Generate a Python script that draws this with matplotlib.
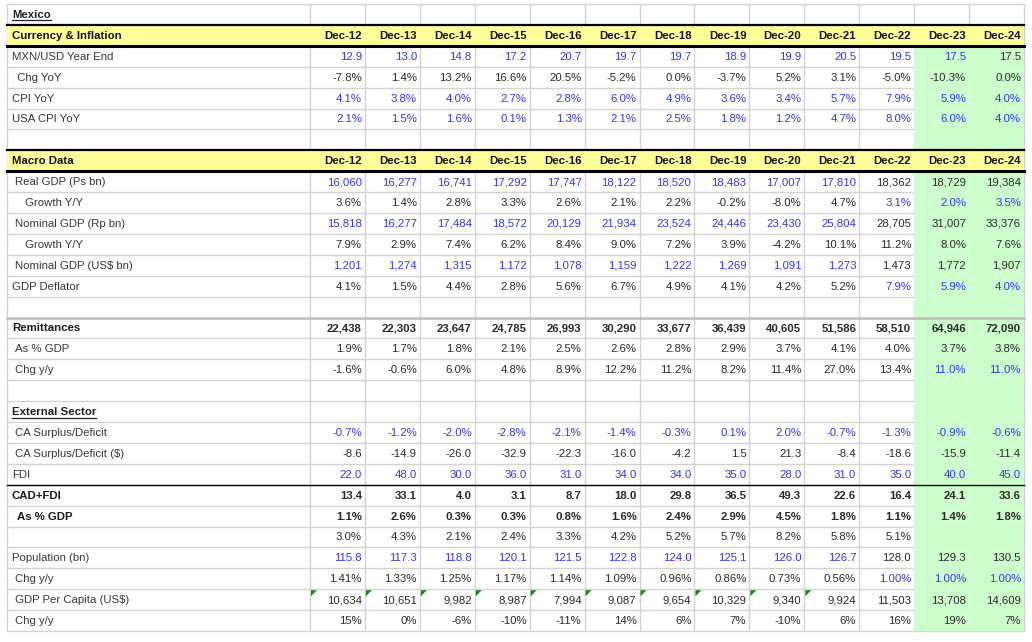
import matplotlib
matplotlib.use('Agg')
import matplotlib.pyplot as plt
from matplotlib.patches import Rectangle, Polygon

plt.rcParams['font.family'] = ['Liberation Sans', 'DejaVu Sans']

years = ['Dec-12', 'Dec-13', 'Dec-14', 'Dec-15', 'Dec-16', 'Dec-17', 'Dec-18',
         'Dec-19', 'Dec-20', 'Dec-21', 'Dec-22', 'Dec-23', 'Dec-24']

# currency & inflation
mxn_usd = [12.9, 13.0, 14.8, 17.2, 20.7, 19.7, 19.7, 18.9, 19.9, 20.5, 19.5, 17.5, 17.5]
mxn_chg = [-7.8, 1.4, 13.2, 16.6, 20.5, -5.2, 0.0, -3.7, 5.2, 3.1, -5.0, -10.3, 0.0]
cpi_yoy = [4.1, 3.8, 4.0, 2.7, 2.8, 6.0, 4.9, 3.6, 3.4, 5.7, 7.9, 5.9, 4.0]
usa_cpi = [2.1, 1.5, 1.6, 0.1, 1.3, 2.1, 2.5, 1.8, 1.2, 4.7, 8.0, 6.0, 4.0]

# macro data
real_gdp = [16060, 16277, 16741, 17292, 17747, 18122, 18520, 18483, 17007, 17810, 18362, 18729, 19384]
real_growth = [3.6, 1.4, 2.8, 3.3, 2.6, 2.1, 2.2, -0.2, -8.0, 4.7, 3.1, 2.0, 3.5]
nom_gdp = [15818, 16277, 17484, 18572, 20129, 21934, 23524, 24446, 23430, 25804, 28705, 31007, 33376]
nom_growth = [7.9, 2.9, 7.4, 6.2, 8.4, 9.0, 7.2, 3.9, -4.2, 10.1, 11.2, 8.0, 7.6]
nom_gdp_usd = [1201, 1274, 1315, 1172, 1078, 1159, 1222, 1269, 1091, 1273, 1473, 1772, 1907]
deflator = [4.1, 1.5, 4.4, 2.8, 5.6, 6.7, 4.9, 4.1, 4.2, 5.2, 7.9, 5.9, 4.0]

# remittances
remit = [22438, 22303, 23647, 24785, 26993, 30290, 33677, 36439, 40605, 51586, 58510, 64946, 72090]
remit_gdp = [1.9, 1.7, 1.8, 2.1, 2.5, 2.6, 2.8, 2.9, 3.7, 4.1, 4.0, 3.7, 3.8]
remit_chg = [-1.6, -0.6, 6.0, 4.8, 8.9, 12.2, 11.2, 8.2, 11.4, 27.0, 13.4, 11.0, 11.0]

# external sector
ca_pct = [-0.7, -1.2, -2.0, -2.8, -2.1, -1.4, -0.3, 0.1, 2.0, -0.7, -1.3, -0.9, -0.6]
ca_usd = [-8.6, -14.9, -26.0, -32.9, -22.3, -16.0, -4.2, 1.5, 21.3, -8.4, -18.6, -15.9, -11.4]
fdi = [22.0, 48.0, 30.0, 36.0, 31.0, 34.0, 34.0, 35.0, 28.0, 31.0, 35.0, 40.0, 45.0]
cad_fdi = [13.4, 33.1, 4.0, 3.1, 8.7, 18.0, 29.8, 36.5, 49.3, 22.6, 16.4, 24.1, 33.6]
cad_fdi_gdp = [1.1, 2.6, 0.3, 0.3, 0.8, 1.6, 2.4, 2.9, 4.5, 1.8, 1.1, 1.4, 1.8]
unlabeled = [3.0, 4.3, 2.1, 2.4, 3.3, 4.2, 5.2, 5.7, 8.2, 5.8, 5.1, None, None]
population = [115.8, 117.3, 118.8, 120.1, 121.5, 122.8, 124.0, 125.1, 126.0, 126.7, 128.0, 129.3, 130.5]
pop_chg = [1.41, 1.33, 1.25, 1.17, 1.14, 1.09, 0.96, 0.86, 0.73, 0.56, 1.00, 1.00, 1.00]
gdp_pc = [10634, 10651, 9982, 8987, 7994, 9087, 9654, 10329, 9340, 9924, 11503, 13708, 14609]
gdp_pc_chg = [15, 0, -6, -10, -11, 14, 6, 7, -10, 6, 16, 19, 7]
gdp_pc_flag = [1, 1, 1, 1, 1, 1, 1, 1, 1, 1, 0, 0, 0]

F1 = '{:.1f}'
P1 = '{:.1f}%'
P2 = '{:.2f}%'
P0 = '{:.0f}%'
N0 = '{:,.0f}'

# (kind, label, values, format, colour codes per column, indent px, bold)
rows = [
    ('title', 'Mexico'),
    ('header', 'Currency & Inflation'),
    ('data', 'MXN/USD Year End', mxn_usd, F1, 'b' * 12 + 'k', 0, False),
    ('data', ' Chg YoY', mxn_chg, P1, 'k' * 13, 2, False),
    ('data', 'CPI YoY', cpi_yoy, P1, 'b' * 13, 0, False),
    ('data', 'USA CPI YoY', usa_cpi, P1, 'b' * 13, 0, False),
    ('blank',),
    ('header', 'Macro Data'),
    ('data', 'Real GDP (Ps bn)', real_gdp, N0, 'b' * 10 + 'kkk', 3, False),
    ('data', 'Growth Y/Y', real_growth, P1, 'k' * 10 + 'bbb', 13, False),
    ('data', 'Nominal GDP (Rp bn)', nom_gdp, N0, 'b' * 10 + 'kkk', 3, False),
    ('data', 'Growth Y/Y', nom_growth, P1, 'k' * 13, 13, False),
    ('data', 'Nominal GDP (US$ bn)', nom_gdp_usd, N0, 'b' * 10 + 'kkk', 3, False),
    ('data', 'GDP Deflator', deflator, P1, 'k' * 10 + 'bbb', 0, False),
    ('blank',),
    ('data', 'Remittances', remit, N0, 'k' * 13, 0, True),
    ('data', 'As % GDP', remit_gdp, P1, 'k' * 13, 3, False),
    ('data', 'Chg y/y', remit_chg, P1, 'k' * 11 + 'bb', 3, False),
    ('blank',),
    ('title', 'External Sector'),
    ('data', 'CA Surplus/Deficit', ca_pct, P1, 'b' * 13, 3, False),
    ('data', 'CA Surplus/Deficit ($)', ca_usd, F1, 'k' * 13, 3, False),
    ('data', 'FDI', fdi, F1, 'b' * 13, 0, False),
    ('data', 'CAD+FDI', cad_fdi, F1, 'k' * 13, 0, True),
    ('data', 'As % GDP', cad_fdi_gdp, P1, 'k' * 13, 5, True),
    ('data', '', unlabeled, P1, 'k' * 13, 0, False),
    ('data', 'Population (bn)', population, F1, 'b' * 10 + 'kkk', 0, False),
    ('data', 'Chg y/y', pop_chg, P2, 'k' * 10 + 'bbb', 3, False),
    ('data', 'GDP Per Capita (US$)', gdp_pc, N0, 'k' * 13, 3, False),
    ('data', 'Chg y/y', gdp_pc_chg, P0, 'k' * 13, 3, False),
]

# layout in pixels
W, H = 1032, 642
LEFT, LABEL_END, RIGHT = 7, 310, 1024
TOP, BOTTOM = 4, 631
ncol = len(years)
col_w = (RIGHT - LABEL_END) / ncol
row_h = (BOTTOM - TOP) / len(rows)
edges = [LABEL_END + i * col_w for i in range(ncol + 1)]
FCST = 11  # first shaded column

GRID = '#d3d3d3'
YELLOW = '#ffff99'
GREEN = '#ccffcc'
BLUE = '#3535f5'
DARK = '#2a2a2a'
LABEL = '#383838'
FS = 8.2
PX = 0.72  # one pixel in points

fig = plt.figure(figsize=(W / 100, H / 100), dpi=100)
ax = fig.add_axes([0, 0, 1, 1])
ax.set_xlim(0, W)
ax.set_ylim(H, 0)
ax.axis('off')


def row_top(i):
    return TOP + i * row_h


# grid
for i in range(len(rows) + 1):
    ax.plot([LEFT, RIGHT], [row_top(i)] * 2, color=GRID, lw=1.4 * PX, zorder=1)
for x in [LEFT] + edges:
    ax.plot([x, x], [TOP, BOTTOM], color=GRID, lw=1.4 * PX, zorder=1)

# forecast shading
ax.add_patch(Rectangle((edges[FCST], row_top(2)), RIGHT - edges[FCST], BOTTOM - row_top(2),
                       facecolor=GREEN, edgecolor='none', zorder=2))

titles = []
for i, r in enumerate(rows):
    y0 = row_top(i)
    yc = y0 + row_h / 2 + 0.5
    kind = r[0]
    if kind == 'header':
        ax.add_patch(Rectangle((LEFT, y0), RIGHT - LEFT, row_h, facecolor=YELLOW,
                               edgecolor='none', zorder=3))
        ax.plot([LEFT, RIGHT], [y0, y0], color='black', lw=1.6, zorder=5)
        ax.plot([LEFT, RIGHT], [y0 + row_h, y0 + row_h], color='black', lw=2.2, zorder=5)
        ax.text(LEFT + 5, yc, r[1], fontsize=FS, fontweight='bold', color='#111111',
                va='center', ha='left', zorder=6)
        for j, yr in enumerate(years):
            ax.text(edges[j + 1] - 3, yc, yr, fontsize=FS, fontweight='bold',
                    color='#111111', va='center', ha='right', zorder=6)
    elif kind == 'title':
        t = ax.text(LEFT + 5, yc, r[1], fontsize=FS, fontweight='bold', color='#222222',
                    va='center', ha='left', zorder=6)
        titles.append((t, yc))
    elif kind == 'data':
        label, vals, fmt, cols, indent, bold = r[1:]
        w = 'bold' if bold else 'normal'
        ax.text(LEFT + 5 + indent, yc, label, fontsize=FS, fontweight=w,
                color='#1a1a1a' if bold else LABEL, va='center', ha='left', zorder=6)
        for j, v in enumerate(vals):
            if v is None:
                continue
            c = BLUE if cols[j] == 'b' else DARK
            ax.text(edges[j + 1] - 3, yc, fmt.format(v), fontsize=FS, fontweight=w,
                    color=c, va='center', ha='right', zorder=6)
        if vals is gdp_pc:
            for j, flag in enumerate(gdp_pc_flag):
                if flag:
                    x0 = edges[j] + 1
                    ax.add_patch(Polygon([[x0, y0 + 1], [x0 + 6, y0 + 1], [x0, y0 + 7]],
                                         closed=True, facecolor='#138a13',
                                         edgecolor='none', zorder=6))

# separators
ax.plot([LEFT, RIGHT], [row_top(15)] * 2, color='#bdbdbd', lw=1.8, zorder=5)
ax.plot([LEFT, RIGHT], [row_top(23)] * 2, color='black', lw=1.0, zorder=5)

# underline the section titles
fig.canvas.draw()
inv = ax.transData.inverted()
for t, yc in titles:
    bb = t.get_window_extent()
    (x0, _), (x1, _) = inv.transform([[bb.x0, bb.y0], [bb.x1, bb.y1]])
    ax.plot([x0, x1], [yc + 5.5, yc + 5.5], color='#222222', lw=0.9, zorder=6)

fig.savefig('out.png', dpi=100)
